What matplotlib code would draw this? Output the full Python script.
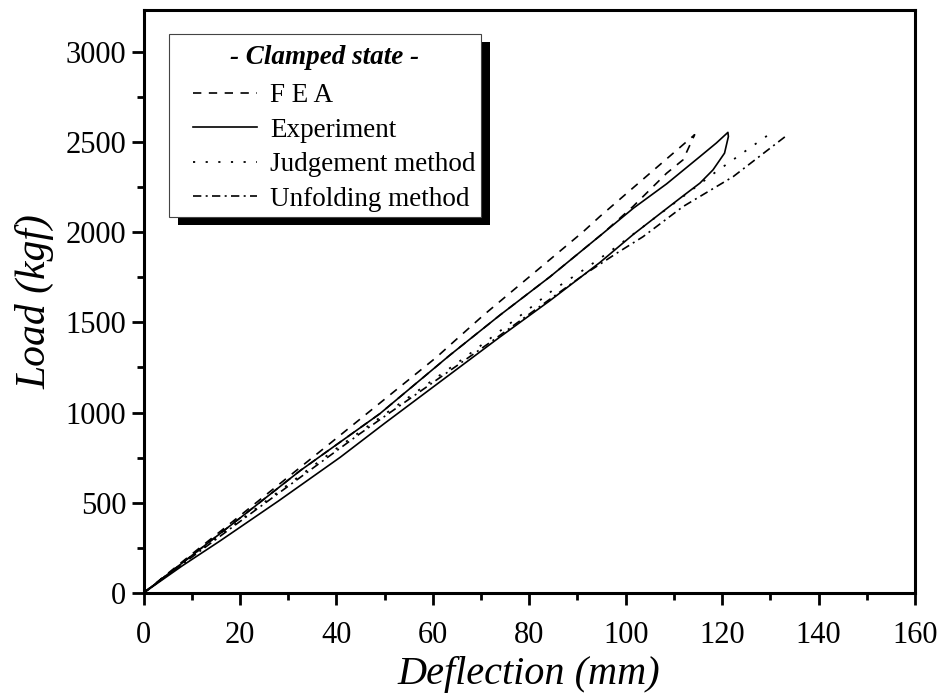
import matplotlib
matplotlib.use("Agg")
import matplotlib.pyplot as plt
from matplotlib.patches import Rectangle
from matplotlib.ticker import MultipleLocator

plt.rcParams['font.family'] = ['Liberation Serif', 'DejaVu Serif']

# FEA: loading branch, then unloading branch
fea_load_x = [0, 10, 20, 39.4, 60.8, 63.5, 70.5, 91.2, 94.6, 114.3]
fea_load_y = [0, 215, 428, 844, 1307, 1372, 1539, 2002, 2085, 2539]
fea_unload_x = [114.3, 111.9, 108.5, 101.5, 95.3, 84.3, 73.9, 63.5, 49, 32.5, 20, 10, 0]
fea_unload_y = [2539, 2400, 2326, 2141, 1993, 1752, 1539, 1317, 993, 678, 415, 207, 0]

# Experiment: upper branch, then lower branch back to origin
exp_up_x = [0, 10, 20, 32.5, 49, 63.5, 73.9, 84.3, 95.3, 101.6, 108.5, 115.4, 118.8, 121.2]
exp_up_y = [0, 207, 415, 678, 993, 1317, 1539, 1752, 1993, 2132, 2267, 2418, 2493, 2552]
exp_down_x = [121.2, 121.3, 120.5, 118.1, 115.4, 111.9, 108.5, 101.5, 94.6, 84.3, 73.9, 62, 50, 40.8, 28, 15.9, 8, 0]
exp_down_y = [2552, 2529, 2437, 2344, 2271, 2200, 2130, 1985, 1830, 1620, 1418, 1180, 940, 752, 510, 289, 150, 0]

# Judgement method
judge_x = [0, 10, 20, 40, 51.1, 66.3, 70.5, 78.7, 84.9, 91.2, 98.1, 110.5, 118.8, 129.9]
judge_y = [0, 202, 402, 800, 1011, 1298, 1382, 1548, 1678, 1789, 1918, 2168, 2335, 2544]

# Unfolding method
unfold_x = [0, 10, 20, 44.9, 72.5, 77.4, 91.2, 98.1, 103.6, 111.9, 122.3, 133.3]
unfold_y = [0, 198, 396, 883, 1400, 1495, 1761, 1882, 1974, 2141, 2307, 2533]

labels = ["F E A", "Experiment", "Judgement method", "Unfolding method"]
legend_title = "- Clamped state -"

fig = plt.figure(figsize=(9.44, 7), dpi=100)
ax_left, ax_right, ax_top, ax_bottom = 143.5, 915, 10, 593
ax = fig.add_axes([ax_left / 944, 1 - ax_bottom / 700,
                   (ax_right - ax_left) / 944, (ax_bottom - ax_top) / 700])


def px2ax(px, py):
    # figure pixel (from top-left) -> axes fraction
    return ((px - ax_left) / (ax_right - ax_left), (ax_bottom - py) / (ax_bottom - ax_top))


lw = 1.2
ax.plot(fea_load_x + fea_unload_x, fea_load_y + fea_unload_y, color='k', lw=lw,
        linestyle=(0, (5, 4.5)), label=labels[0])
ax.plot(exp_up_x + exp_down_x, exp_up_y + exp_down_y, color='k', lw=lw,
        linestyle='-', label=labels[1])
ax.plot(judge_x, judge_y, color='k', lw=1.3, linestyle=(0, (1.2, 5.8)), label=labels[2])
ax.plot(unfold_x, unfold_y, color='k', lw=lw, linestyle=(0, (5, 2.6, 1.2, 2.6)), label=labels[3])

ax.set_xlim(0, 160)
ax.set_ylim(0, 3230)
ax.xaxis.set_major_locator(MultipleLocator(20))
ax.xaxis.set_minor_locator(MultipleLocator(10))
ax.yaxis.set_major_locator(MultipleLocator(500))
ax.yaxis.set_minor_locator(MultipleLocator(250))

for s in ax.spines.values():
    s.set_linewidth(2.2)
ax.tick_params(which='major', direction='out', length=8.5, width=2, labelsize=22, pad=4)
ax.tick_params(which='minor', direction='out', length=5, width=2)
ax.tick_params(axis='x', which='major', pad=12)

ax.set_xlabel("Deflection (mm)", fontsize=29, fontstyle='italic', labelpad=4)
ax.set_ylabel("Load (kgf)", fontsize=30, fontstyle='italic', labelpad=8)

# legend box with a heavy black shadow, drawn by hand
x0, y0 = px2ax(169, 217)
x1, y1 = px2ax(481, 34)
sx, sy = px2ax(169 + 9, 217 + 8)
ax.add_patch(Rectangle((sx, sy), x1 - x0, y1 - y0, transform=ax.transAxes,
                       facecolor='k', edgecolor='none', zorder=4.8, clip_on=False))
ax.add_patch(Rectangle((x0, y0), x1 - x0, y1 - y0, transform=ax.transAxes,
                       facecolor='white', edgecolor='#444444', lw=0.8, zorder=4.9, clip_on=False))
tx, ty = px2ax(325, 58)
ax.text(tx, ty, legend_title, transform=ax.transAxes, ha='center', va='center',
        fontsize=19.5, fontweight='bold', fontstyle='italic', zorder=6)

leg = ax.legend(loc='upper left', bbox_to_anchor=px2ax(193, 83.5), borderaxespad=0,
                borderpad=0, fontsize=19.5, handlelength=2.37, handletextpad=0.48,
                labelspacing=0.35, frameon=False)
leg.set_zorder(6)

fig.savefig("out.png", dpi=100)
